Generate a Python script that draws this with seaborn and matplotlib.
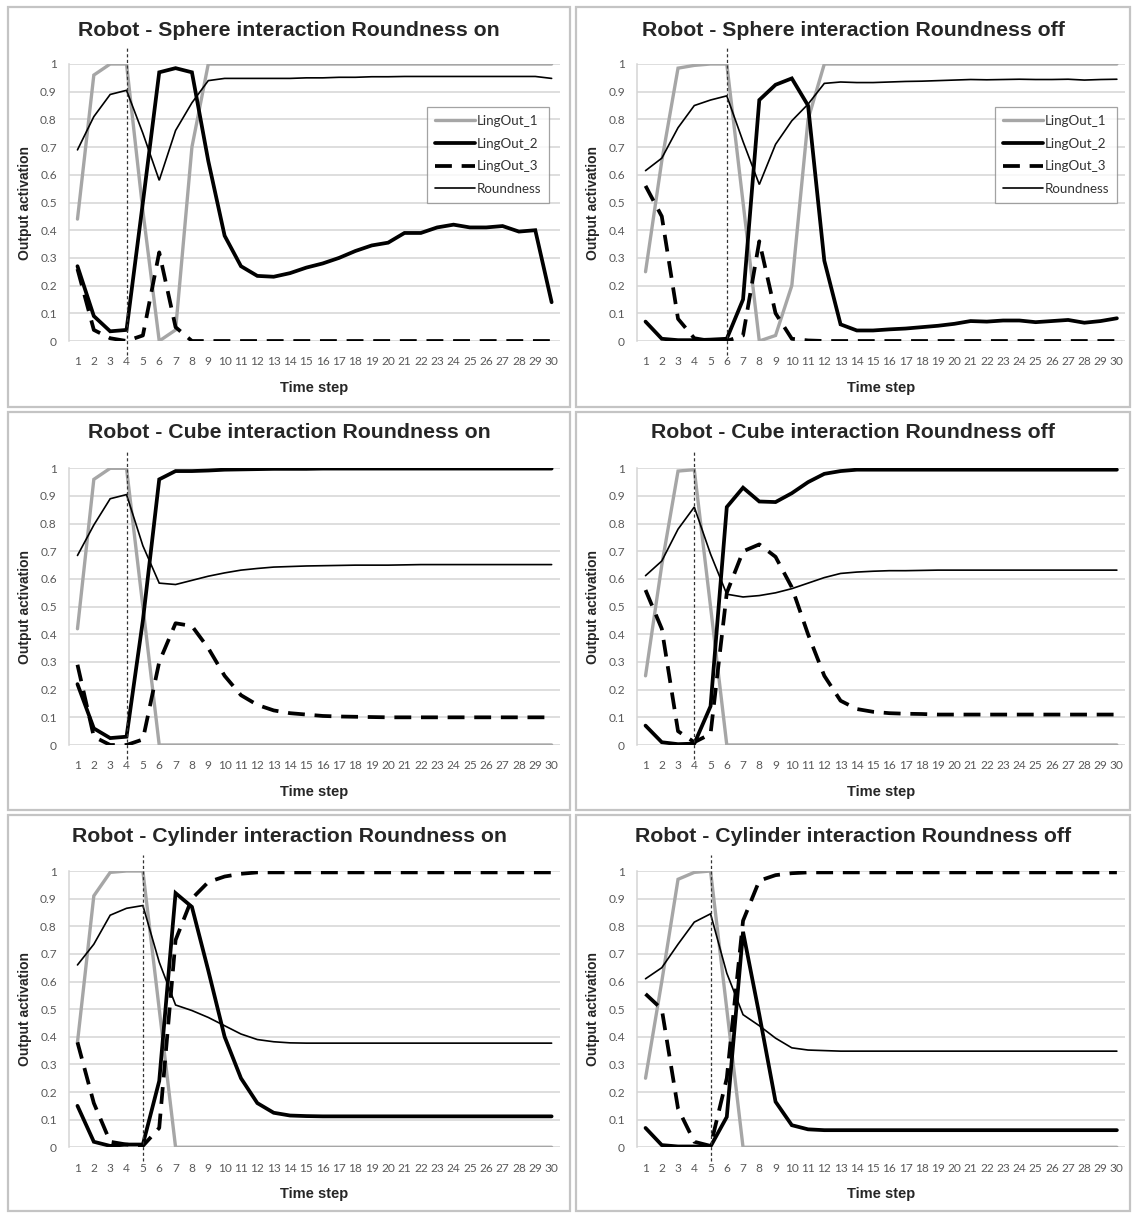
# Recreating the six "Robot - object interaction" line charts
import numpy as np
import pandas as pd
import matplotlib
matplotlib.use("Agg")
import matplotlib.pyplot as plt
from matplotlib.patches import Rectangle
import seaborn as sns

# Time steps shared by all panels
steps = list(range(1, 31))

# Sphere, roundness on
sphere_on_1 = [0.44, 0.96, 1.00, 1.00, 0.47, 0.00, 0.04, 0.70, 1.00, 1.00, 1.00, 1.00, 1.00, 1.00, 1.00,
               1.00, 1.00, 1.00, 1.00, 1.00, 1.00, 1.00, 1.00, 1.00, 1.00, 1.00, 1.00, 1.00, 1.00, 1.00]
sphere_on_2 = [0.27, 0.09, 0.035, 0.04, 0.50, 0.97, 0.985, 0.97, 0.65, 0.38, 0.27, 0.235, 0.232, 0.245, 0.265,
               0.28, 0.30, 0.325, 0.345, 0.355, 0.39, 0.39, 0.41, 0.42, 0.41, 0.41, 0.415, 0.395, 0.40, 0.14]
sphere_on_3 = [0.26, 0.04, 0.01, 0.00, 0.02, 0.32, 0.05, 0.00, 0.00, 0.00, 0.00, 0.00, 0.00, 0.00, 0.00,
               0.00, 0.00, 0.00, 0.00, 0.00, 0.00, 0.00, 0.00, 0.00, 0.00, 0.00, 0.00, 0.00, 0.00, 0.00]
sphere_on_r = [0.69, 0.81, 0.89, 0.905, 0.75, 0.58, 0.76, 0.86, 0.94, 0.948, 0.948, 0.948, 0.948, 0.948, 0.950,
               0.950, 0.952, 0.952, 0.954, 0.954, 0.955, 0.955, 0.955, 0.955, 0.955, 0.955, 0.955, 0.955, 0.955, 0.948]

# Sphere, roundness off
sphere_off_1 = [0.25, 0.65, 0.985, 0.995, 1.00, 1.00, 0.50, 0.00, 0.02, 0.20, 0.80, 1.00, 1.00, 1.00, 1.00,
                1.00, 1.00, 1.00, 1.00, 1.00, 1.00, 1.00, 1.00, 1.00, 1.00, 1.00, 1.00, 1.00, 1.00, 1.00]
sphere_off_2 = [0.07, 0.008, 0.003, 0.003, 0.005, 0.008, 0.15, 0.87, 0.925, 0.948, 0.85, 0.29, 0.06, 0.038, 0.038,
                0.042, 0.045, 0.05, 0.055, 0.062, 0.072, 0.07, 0.074, 0.074, 0.068, 0.072, 0.076, 0.066, 0.072, 0.082]
sphere_off_3 = [0.56, 0.45, 0.08, 0.01, 0.00, 0.00, 0.02, 0.36, 0.10, 0.008, 0.002, 0.00, 0.00, 0.00, 0.00,
                0.00, 0.00, 0.00, 0.00, 0.00, 0.00, 0.00, 0.00, 0.00, 0.00, 0.00, 0.00, 0.00, 0.00, 0.00]
sphere_off_r = [0.615, 0.66, 0.77, 0.85, 0.87, 0.885, 0.72, 0.565, 0.71, 0.795, 0.855, 0.93, 0.935, 0.933, 0.933,
                0.935, 0.937, 0.938, 0.94, 0.942, 0.944, 0.943, 0.944, 0.945, 0.944, 0.944, 0.945, 0.942, 0.944, 0.945]

# Cube, roundness on
cube_on_1 = [0.42, 0.96, 1.00, 1.00, 0.50, 0.00, 0.00, 0.00, 0.00, 0.00, 0.00, 0.00, 0.00, 0.00, 0.00,
             0.00, 0.00, 0.00, 0.00, 0.00, 0.00, 0.00, 0.00, 0.00, 0.00, 0.00, 0.00, 0.00, 0.00, 0.00]
cube_on_2 = [0.22, 0.06, 0.025, 0.03, 0.45, 0.96, 0.99, 0.99, 0.992, 0.995, 0.996, 0.997, 0.998, 0.998, 0.998,
             0.999, 0.999, 0.999, 0.999, 0.999, 0.999, 0.999, 0.999, 0.999, 0.999, 0.999, 0.999, 0.999, 0.999, 0.999]
cube_on_3 = [0.29, 0.03, 0.00, 0.00, 0.02, 0.30, 0.44, 0.43, 0.35, 0.25, 0.18, 0.145, 0.125, 0.115, 0.11,
             0.105, 0.103, 0.102, 0.101, 0.10, 0.10, 0.10, 0.10, 0.10, 0.10, 0.10, 0.10, 0.10, 0.10, 0.10]
cube_on_r = [0.685, 0.795, 0.89, 0.905, 0.72, 0.585, 0.58, 0.595, 0.61, 0.622, 0.632, 0.638, 0.643, 0.645, 0.647,
             0.648, 0.649, 0.65, 0.65, 0.65, 0.651, 0.652, 0.652, 0.652, 0.652, 0.652, 0.652, 0.652, 0.652, 0.652]

# Cube, roundness off
cube_off_1 = [0.25, 0.65, 0.99, 0.995, 0.50, 0.00, 0.00, 0.00, 0.00, 0.00, 0.00, 0.00, 0.00, 0.00, 0.00,
              0.00, 0.00, 0.00, 0.00, 0.00, 0.00, 0.00, 0.00, 0.00, 0.00, 0.00, 0.00, 0.00, 0.00, 0.00]
cube_off_2 = [0.07, 0.01, 0.003, 0.005, 0.14, 0.86, 0.93, 0.88, 0.878, 0.91, 0.95, 0.98, 0.99, 0.995, 0.995,
              0.995, 0.995, 0.995, 0.995, 0.995, 0.995, 0.995, 0.995, 0.995, 0.995, 0.995, 0.995, 0.995, 0.995, 0.995]
cube_off_3 = [0.56, 0.42, 0.05, 0.01, 0.04, 0.55, 0.70, 0.725, 0.68, 0.57, 0.40, 0.25, 0.16, 0.13, 0.12,
              0.115, 0.113, 0.112, 0.11, 0.11, 0.11, 0.11, 0.11, 0.11, 0.11, 0.11, 0.11, 0.11, 0.11, 0.11]
cube_off_r = [0.612, 0.665, 0.78, 0.86, 0.69, 0.545, 0.535, 0.54, 0.55, 0.565, 0.585, 0.605, 0.62, 0.625, 0.628,
              0.63, 0.63, 0.631, 0.632, 0.632, 0.632, 0.632, 0.632, 0.632, 0.632, 0.632, 0.632, 0.632, 0.632, 0.632]

# Cylinder, roundness on
cyl_on_1 = [0.38, 0.91, 0.995, 1.00, 1.00, 0.50, 0.00, 0.00, 0.00, 0.00, 0.00, 0.00, 0.00, 0.00, 0.00,
            0.00, 0.00, 0.00, 0.00, 0.00, 0.00, 0.00, 0.00, 0.00, 0.00, 0.00, 0.00, 0.00, 0.00, 0.00]
cyl_on_2 = [0.15, 0.02, 0.005, 0.01, 0.01, 0.24, 0.92, 0.87, 0.64, 0.40, 0.25, 0.16, 0.125, 0.115, 0.113,
            0.112, 0.112, 0.112, 0.112, 0.112, 0.112, 0.112, 0.112, 0.112, 0.112, 0.112, 0.112, 0.112, 0.112, 0.112]
cyl_on_3 = [0.38, 0.16, 0.02, 0.01, 0.005, 0.07, 0.75, 0.90, 0.96, 0.98, 0.99, 0.995, 0.995, 0.995, 0.995,
            0.995, 0.995, 0.995, 0.995, 0.995, 0.995, 0.995, 0.995, 0.995, 0.995, 0.995, 0.995, 0.995, 0.995, 0.995]
cyl_on_r = [0.66, 0.735, 0.84, 0.865, 0.875, 0.67, 0.515, 0.495, 0.47, 0.44, 0.41, 0.39, 0.382, 0.378, 0.377,
            0.377, 0.377, 0.377, 0.377, 0.377, 0.377, 0.377, 0.377, 0.377, 0.377, 0.377, 0.377, 0.377, 0.377, 0.377]

# Cylinder, roundness off
cyl_off_1 = [0.25, 0.60, 0.97, 0.995, 1.00, 0.50, 0.00, 0.00, 0.00, 0.00, 0.00, 0.00, 0.00, 0.00, 0.00,
             0.00, 0.00, 0.00, 0.00, 0.00, 0.00, 0.00, 0.00, 0.00, 0.00, 0.00, 0.00, 0.00, 0.00, 0.00]
cyl_off_2 = [0.07, 0.008, 0.003, 0.003, 0.003, 0.11, 0.78, 0.48, 0.165, 0.08, 0.065, 0.062, 0.062, 0.062, 0.062,
             0.062, 0.062, 0.062, 0.062, 0.062, 0.062, 0.062, 0.062, 0.062, 0.062, 0.062, 0.062, 0.062, 0.062, 0.062]
cyl_off_3 = [0.555, 0.50, 0.14, 0.02, 0.005, 0.25, 0.82, 0.965, 0.985, 0.992, 0.995, 0.995, 0.995, 0.995, 0.995,
             0.995, 0.995, 0.995, 0.995, 0.995, 0.995, 0.995, 0.995, 0.995, 0.995, 0.995, 0.995, 0.995, 0.995, 0.995]
cyl_off_r = [0.61, 0.65, 0.735, 0.815, 0.845, 0.63, 0.48, 0.44, 0.395, 0.36, 0.352, 0.35, 0.348, 0.348, 0.348,
             0.348, 0.348, 0.348, 0.348, 0.348, 0.348, 0.348, 0.348, 0.348, 0.348, 0.348, 0.348, 0.348, 0.348, 0.348]

titles = ["Robot - Sphere interaction Roundness on", "Robot - Sphere interaction Roundness off",
          "Robot - Cube interaction Roundness on", "Robot - Cube interaction Roundness off",
          "Robot - Cylinder interaction Roundness on", "Robot - Cylinder interaction Roundness off"]
series_names = ["LingOut_1", "LingOut_2", "LingOut_3", "Roundness"]
marker_steps = [4, 6, 4, 4, 5, 5]  # where the dotted vertical line sits

panels = [
    [sphere_on_1, sphere_on_2, sphere_on_3, sphere_on_r],
    [sphere_off_1, sphere_off_2, sphere_off_3, sphere_off_r],
    [cube_on_1, cube_on_2, cube_on_3, cube_on_r],
    [cube_off_1, cube_off_2, cube_off_3, cube_off_r],
    [cyl_on_1, cyl_on_2, cyl_on_3, cyl_on_r],
    [cyl_off_1, cyl_off_2, cyl_off_3, cyl_off_r],
]

# line look for each series
styles = {
    "LingOut_1": dict(color="#a6a6a6", lw=2.4, ls="-"),
    "LingOut_2": dict(color="black", lw=2.7, ls="-"),
    "LingOut_3": dict(color="black", lw=2.7, ls=(0, (4.5, 2.6))),
    "Roundness": dict(color="black", lw=1.2, ls="-"),
}

sns.set_style("white")
plt.rcParams["font.family"] = ["Liberation Sans", "DejaVu Sans"]

W, H = 1134, 1213
fig = plt.figure(figsize=(W / 100, H / 100), dpi=100)

# panel frames (pixels): x0, x1 for columns, y0, y1 for rows
col_frames = [(8, 570), (576, 1130)]
row_frames = [(7, 407), (412, 810), (815, 1211)]
# axes (pixels)
col_axes = [(69.3, 559.8), (637.4, 1125.0)]
row_axes = [(64, 341), (468.3, 745), (871, 1147.3)]
title_y = [30, 433, 837]

for i, data in enumerate(panels):
    r, c = divmod(i, 2)
    fx0, fx1 = col_frames[c]
    fy0, fy1 = row_frames[r]
    fig.patches.append(Rectangle((fx0 / W, 1 - fy1 / H), (fx1 - fx0) / W, (fy1 - fy0) / H,
                                 transform=fig.transFigure, fill=False, edgecolor="#c4c4c4", lw=1.6))

    ax0, ax1 = col_axes[c]
    ay0, ay1 = row_axes[r]
    ax = fig.add_axes([ax0 / W, 1 - ay1 / H, (ax1 - ax0) / W, (ay1 - ay0) / H])

    for name, values in zip(series_names, data):
        st = styles[name]
        sns.lineplot(x=steps, y=values, ax=ax, color=st["color"], linewidth=st["lw"],
                     linestyle=st["ls"], label=name, solid_joinstyle="miter", dash_capstyle="butt")

    # dotted vertical marker running a little past the plot box
    ax.axvline(marker_steps[i], ymin=-0.05, ymax=1.058, color="#333333", lw=0.9,
               ls=(0, (2.5, 2)), clip_on=False, zorder=5)

    ax.set_xlim(0.5, 30.5)
    ax.set_ylim(0, 1)
    ax.set_xticks(steps)
    ax.set_xticklabels([str(s) for s in steps])
    ax.set_yticks(np.round(np.arange(0, 1.01, 0.1), 1))
    ax.set_yticklabels(["0", "0.1", "0.2", "0.3", "0.4", "0.5", "0.6", "0.7", "0.8", "0.9", "1"])
    ax.tick_params(length=0, labelsize=8.6, labelcolor="#595959")
    ax.tick_params(axis="x", pad=11)
    ax.tick_params(axis="y", pad=9)
    for lab in ax.get_xticklabels() + ax.get_yticklabels():
        lab.set_fontfamily(["Lato", "DejaVu Sans"])

    ax.yaxis.grid(True, color="#d4d4d4", lw=1.1)
    ax.set_axisbelow(True)
    for side in ["top", "right", "bottom"]:
        ax.spines[side].set_visible(False)
    ax.spines["left"].set_color("#d4d4d4")
    ax.spines["left"].set_linewidth(1.1)

    ax.set_xlabel("Time step", fontsize=10.5, fontweight="bold")
    ax.xaxis.set_label_coords(0.5, -47 / 277)
    ax.xaxis.label.set_va("center")
    ax.set_ylabel("Output activation", fontsize=10, fontweight="bold")
    ax.yaxis.set_label_coords(-(ax0 - (fx0 + 17)) / (ax1 - ax0), 0.5)
    ax.yaxis.label.set_va("center")

    fig.text(((fx0 + fx1) / 2) / W, 1 - title_y[r] / H, titles[i], ha="center", va="center",
             fontsize=15.3, fontweight="bold")

    # legend only on the sphere panels
    if r == 0:
        anchor_x = 0.978 if c == 0 else 0.984
        leg = ax.legend(loc="upper right", bbox_to_anchor=(anchor_x, 0.845), frameon=True, fancybox=False,
                        fontsize=9.6, handlelength=3.0, handletextpad=0.1, labelspacing=0.8,
                        borderpad=0.6, borderaxespad=0)
        leg.get_frame().set_edgecolor("#8c8c8c")
        leg.get_frame().set_linewidth(0.9)
        for t in leg.get_texts():
            t.set_fontfamily(["Lato", "DejaVu Sans"])
            t.set_color("#333333")
    else:
        ax.get_legend().remove()

fig.savefig("out.png", dpi=100)
